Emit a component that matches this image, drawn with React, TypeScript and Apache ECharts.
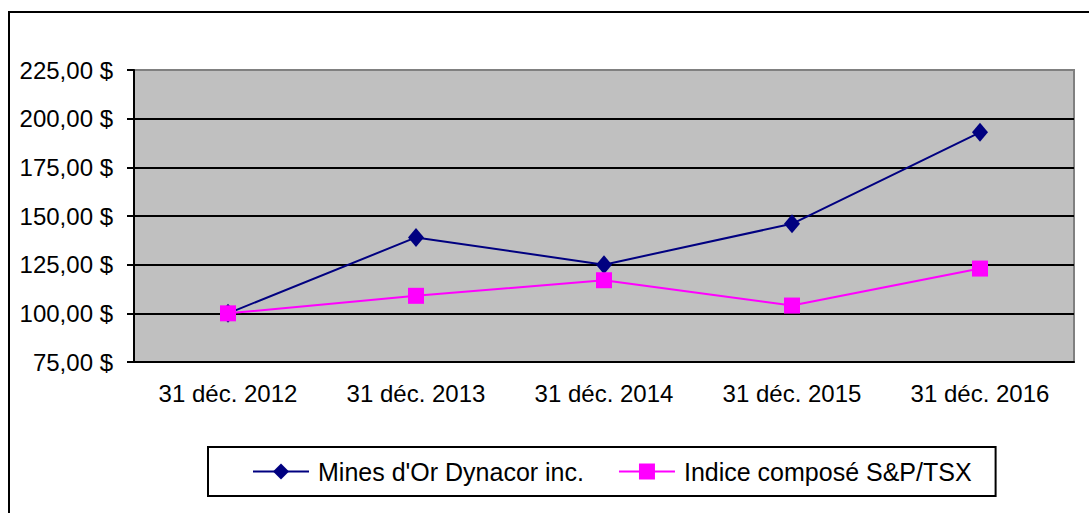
import React, { useEffect, useRef } from "react";
import * as echarts from "echarts";

const categories = ["31 déc. 2012", "31 déc. 2013", "31 déc. 2014", "31 déc. 2015", "31 déc. 2016"];
const dynacorValues = [100, 139, 125, 146, 193];
const tsxValues = [100, 109, 117, 104, 123];
const seriesNames = ["Mines d'Or Dynacor inc.", "Indice composé S&P/TSX"];

const FONT = "'Liberation Sans', Arial, sans-serif";

export default function App() {
  const ref = useRef<HTMLDivElement>(null);
  useEffect(() => {
    if (!ref.current) return;
    const chart = echarts.init(ref.current, undefined, { renderer: "svg" });
    chart.setOption({
      animation: false,
      backgroundColor: "#ffffff",
      textStyle: { fontFamily: FONT },
      graphic: [
        {
          type: "rect",
          shape: { x: 9, y: 12, width: 1100, height: 520 },
          style: { fill: "none", stroke: "#000", lineWidth: 2 },
          z: 100,
        },
      ],
      grid: {
        left: 134,
        right: 15,
        top: 70,
        bottom: 151,
        show: true,
        backgroundColor: "#C0C0C0",
        borderColor: "#808080",
        borderWidth: 2,
      },
      legend: {
        left: 208,
        top: 447,
        padding: [12, 24, 12, 44],
        itemWidth: 56,
        itemHeight: 20,
        itemGap: 34,
        borderColor: "#000",
        borderWidth: 2,
        textStyle: { fontSize: 25, color: "#000", fontFamily: FONT, padding: [0, 0, 0, 4] },
        data: seriesNames,
      },
      xAxis: {
        type: "category",
        data: categories,
        boundaryGap: true,
        axisLine: { lineStyle: { color: "#000", width: 2 } },
        axisTick: { length: 8, lineStyle: { color: "#000", width: 2 } },
        axisLabel: { color: "#000", fontSize: 24, margin: 19, fontFamily: FONT },
        splitLine: { show: false },
      },
      yAxis: {
        type: "value",
        min: 75,
        max: 225,
        interval: 25,
        axisLine: { show: true, lineStyle: { color: "#000", width: 2 } },
        axisTick: { show: true, length: 7, lineStyle: { color: "#000", width: 2 } },
        axisLabel: {
          color: "#000",
          fontSize: 24,
          margin: 21,
          fontFamily: FONT,
          formatter: (v: number) => v.toFixed(2).replace(".", ",") + " $",
        },
        splitLine: {
          show: true,
          lineStyle: {
            color: ["#000", "#000", "#000", "#000", "#000", "#000", "#808080"],
            width: 2,
          },
        },
      },
      series: [
        {
          name: seriesNames[0],
          type: "line",
          data: dynacorValues,
          symbol: "diamond",
          symbolSize: [16, 19],
          itemStyle: { color: "#000080" },
          lineStyle: { color: "#000080", width: 2 },
          z: 3,
        },
        {
          name: seriesNames[1],
          type: "line",
          data: tsxValues,
          symbol: "rect",
          symbolSize: 16,
          itemStyle: { color: "#FF00FF" },
          lineStyle: { color: "#FF00FF", width: 2 },
          z: 4,
        },
      ],
    });
    return () => chart.dispose();
  }, []);
  return (
    <div
      ref={ref}
      style={{ position: "fixed", left: 0, top: 0, width: 1089, height: 513 }}
    />
  );
}
